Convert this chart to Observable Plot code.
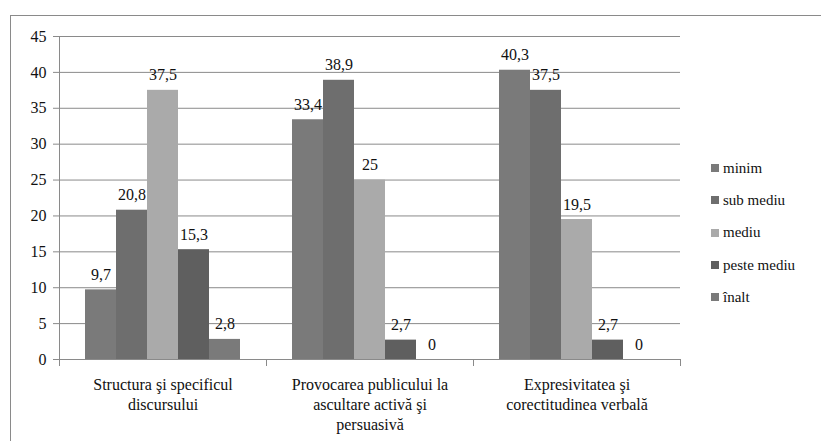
<!DOCTYPE html>
<html>
<head>
<meta charset="utf-8">
<script src="https://cdn.jsdelivr.net/npm/d3@7"></script>
<script src="https://cdn.jsdelivr.net/npm/@observablehq/plot@0.6"></script>
<style>
  @font-face { font-family: "ChartSerif"; src: local("Liberation Serif"), local("LiberationSerif"), local("Liberation Serif Regular"), local("LiberationSerif-Regular"); }
  html, body { margin: 0; padding: 0; background: #fff; overflow: hidden; }
  #wrap { position: relative; width: 821px; height: 441px; }
  #border { position: absolute; left: 10px; top: 15px; width: 830px; height: 450px; border-left: 1.5px solid #8a8a8a; border-top: 1.5px solid #8a8a8a; box-sizing: border-box; }
  #chart { position: absolute; left: 0; top: 0; }
  #legend { position: absolute; left: 711px; top: 152px; font-size: 15px; color: #111; }
  .item { height: 32.3px; display: flex; align-items: center; white-space: nowrap; }
  .sw { width: 8px; height: 8px; margin-right: 4px; flex: none; }
</style>
</head>
<body>
<div id="wrap">
  <div id="border"></div>
  <div id="chart"></div>
  <div id="legend"></div>
</div>
<script>
const categories = [
  "Structura şi specificul discursului",
  "Provocarea publicului la ascultare activă şi persuasivă",
  "Expresivitatea şi corectitudinea verbală"
];
const categoryLabels = [
  "Structura şi specificul\ndiscursului",
  "Provocarea publicului la\nascultare activă şi\npersuasivă",
  "Expresivitatea şi\ncorectitudinea verbală"
];
const series = ["minim", "sub mediu", "mediu", "peste mediu", "înalt"];
const minim = [9.7, 33.4, 40.3];
const subMediu = [20.8, 38.9, 37.5];
const mediu = [37.5, 25, 19.5];
const pesteMediu = [15.3, 2.7, 2.7];
const inalt = [2.8, 0, 0];
const colors = ["#7a7a7a", "#6e6e6e", "#aaaaaa", "#5f5f5f", "#7a7a7a"];
const yTicks = [0, 5, 10, 15, 20, 25, 30, 35, 40, 45];

const values = [minim, subMediu, mediu, pesteMediu, inalt];
const data = [];
categories.forEach((cat, i) => {
  series.forEach((s, j) => data.push({cat, series: s, value: values[j][i]}));
});
const fmt = v => String(v).replace(".", ",");
const labelOf = c => categoryLabels[categories.indexOf(c)];
const FONT = "'Liberation Serif', ChartSerif, serif";

const chart = Plot.plot({
  width: 821,
  height: 441,
  marginLeft: 58,
  marginRight: 140,
  marginTop: 36,
  marginBottom: 82,
  style: {fontFamily: FONT, fontSize: "16px", background: "transparent", color: "#111"},
  fx: {domain: categories, padding: 0, label: null},
  x: {domain: series, paddingInner: 0, paddingOuter: 0.74, axis: null},
  y: {domain: [0, 45], label: null},
  color: {domain: series, range: colors},
  marks: [
    Plot.gridY({ticks: yTicks, stroke: "#8a8a8a", strokeOpacity: 1, strokeWidth: 1}),
    Plot.axisY({ticks: yTicks, tickSize: 6, tickPadding: 7, stroke: "#8a8a8a", fill: "#111", fontSize: 16, label: null}),
    Plot.barY(data, {fx: "cat", x: "series", y: "value", fill: "series"}),
    Plot.text(data, {fx: "cat", x: "series", y: "value", text: d => fmt(d.value), lineAnchor: "bottom", dy: -10, fontSize: 16, fill: "#111"}),
    Plot.ruleY([0], {stroke: "#8a8a8a"}),
    Plot.frame({anchor: "left", facetAnchor: "left", stroke: "#8a8a8a", insetBottom: -6}),
    Plot.frame({anchor: "left", stroke: "#8a8a8a", insetTop: 323, insetBottom: -6}),
    Plot.frame({anchor: "right", facetAnchor: "right", stroke: "#8a8a8a", insetTop: 323, insetBottom: -6}),
    Plot.axisFx({anchor: "bottom", tickSize: 0, tickPadding: 16, lineHeight: 1.25, fontSize: 16, fill: "#111", label: null, tickFormat: labelOf})
  ]
});
document.getElementById("chart").appendChild(chart);

const legend = document.getElementById("legend");
series.forEach((s, j) => {
  const item = document.createElement("div");
  item.className = "item";
  const sw = document.createElement("span");
  sw.className = "sw";
  sw.style.background = colors[j];
  const t = document.createElement("span");
  t.textContent = s;
  item.appendChild(sw);
  item.appendChild(t);
  legend.appendChild(item);
});
document.querySelectorAll("#wrap, #wrap *").forEach(el => {
  el.style.setProperty("font-family", FONT, "important");
});
</script>
</body>
</html>
